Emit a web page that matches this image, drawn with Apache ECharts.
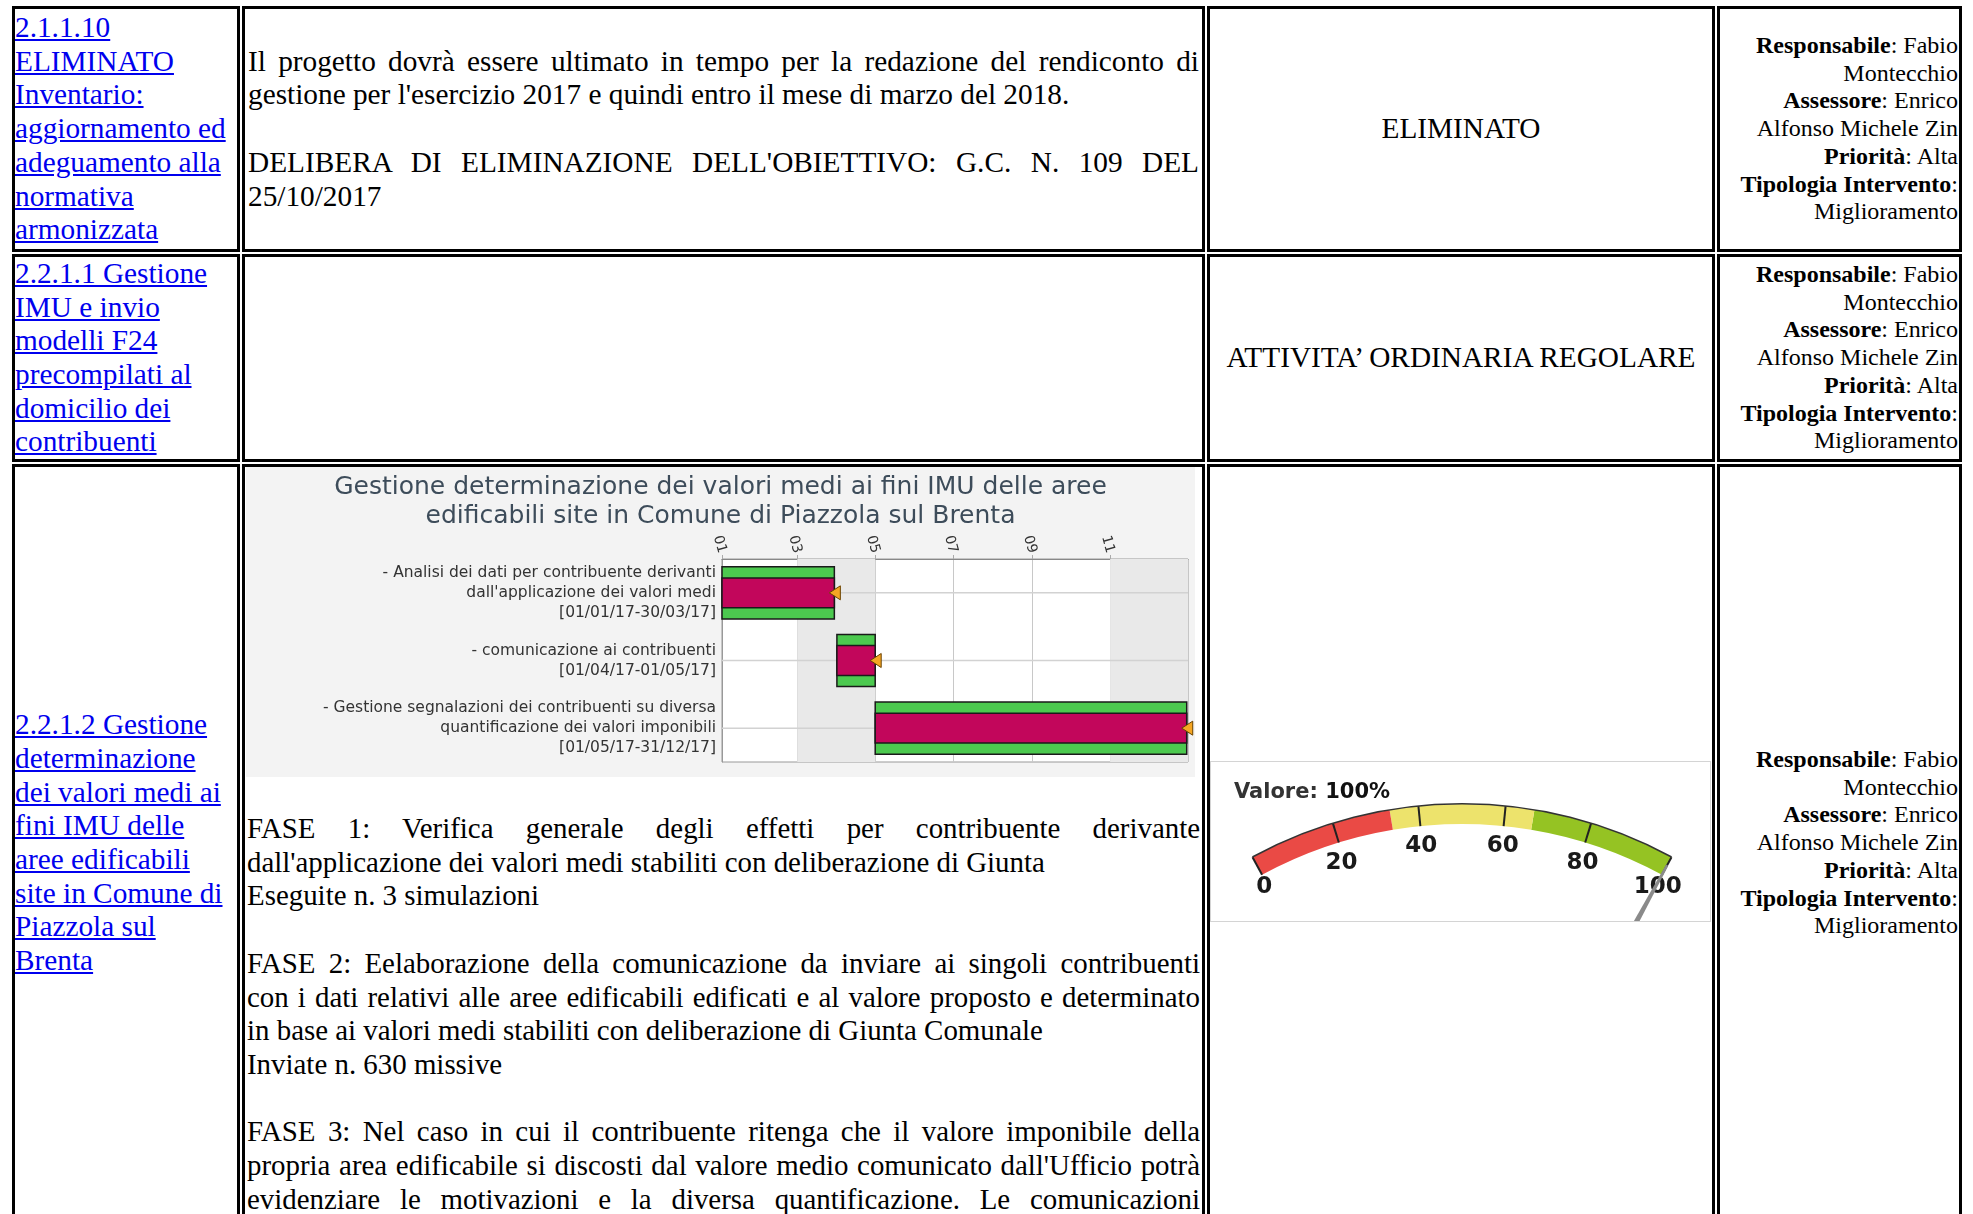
<!DOCTYPE html>
<html>
<head>
<meta charset="utf-8">
<script src="https://cdn.jsdelivr.net/npm/echarts@6/dist/echarts.min.js"></script>
<style>
html,body{margin:0;padding:0;background:#fff;}
body{width:1973px;height:1214px;overflow:hidden;position:relative;font-family:"Liberation Serif","Times New Roman",serif;color:#000;}
.cell{position:absolute;box-sizing:border-box;border:3px solid #000;display:flex;flex-direction:column;justify-content:center;overflow:hidden;}
.big{font-size:29.3px;line-height:33.7px;}
.small{font-size:24px;line-height:27.7px;text-align:right;padding-right:1px;white-space:nowrap;}
.c1{white-space:nowrap;padding-left:0;}
a{color:#0000ee;text-decoration:underline;}
.j{text-align:justify;text-align-last:justify;}
.l{text-align:left;}
.blank{height:33.7px;}
.ctr{text-align:center;white-space:nowrap;}
</style>
</head>
<body>

<!-- Row 1 -->
<div class="cell big c1" style="left:12px;top:6px;width:228px;height:246px;">
  <a>2.1.1.10<br>ELIMINATO<br>Inventario:<br>aggiornamento ed<br>adeguamento alla<br>normativa<br>armonizzata</a>
</div>
<div class="cell big" style="left:242px;top:6px;width:963px;height:246px;padding:0 3px;">
  <div class="j">Il progetto dovrà essere ultimato in tempo per la redazione del rendiconto di</div>
  <div class="l">gestione per l'esercizio 2017 e quindi entro il mese di marzo del 2018.</div>
  <div class="blank"></div>
  <div class="j">DELIBERA DI ELIMINAZIONE DELL'OBIETTIVO: G.C. N. 109 DEL</div>
  <div class="l">25/10/2017</div>
</div>
<div class="cell big ctr" style="left:1207px;top:6px;width:508px;height:246px;">ELIMINATO</div>
<div class="cell small" style="left:1717px;top:6px;width:245px;height:246px;">
  <div><b>Responsabile</b>: Fabio<br>Montecchio<br><b>Assessore</b>: Enrico<br>Alfonso Michele Zin<br><b>Priorità</b>: Alta<br><b>Tipologia Intervento</b>:<br>Miglioramento</div>
</div>

<!-- Row 2 -->
<div class="cell big c1" style="left:12px;top:254px;width:228px;height:208px;">
  <a>2.2.1.1 Gestione<br>IMU e invio<br>modelli F24<br>precompilati al<br>domicilio dei<br>contribuenti</a>
</div>
<div class="cell big" style="left:242px;top:254px;width:963px;height:208px;"></div>
<div class="cell big ctr" style="left:1207px;top:254px;width:508px;height:208px;">ATTIVITA’ ORDINARIA REGOLARE</div>
<div class="cell small" style="left:1717px;top:254px;width:245px;height:208px;">
  <div><b>Responsabile</b>: Fabio<br>Montecchio<br><b>Assessore</b>: Enrico<br>Alfonso Michele Zin<br><b>Priorità</b>: Alta<br><b>Tipologia Intervento</b>:<br>Miglioramento</div>
</div>

<!-- Row 3 -->
<div class="cell big c1" style="left:12px;top:464px;width:228px;height:758px;">
  <a>2.2.1.2 Gestione<br>determinazione<br>dei valori medi ai<br>fini IMU delle<br>aree edificabili<br>site in Comune di<br>Piazzola sul<br>Brenta</a>
</div>
<div class="cell big" style="left:242px;top:464px;width:963px;height:758px;"></div>
<div class="cell big" style="left:1207px;top:464px;width:508px;height:758px;"></div>
<div class="cell small" style="left:1717px;top:464px;width:245px;height:758px;">
  <div><b>Responsabile</b>: Fabio<br>Montecchio<br><b>Assessore</b>: Enrico<br>Alfonso Michele Zin<br><b>Priorità</b>: Alta<br><b>Tipologia Intervento</b>:<br>Miglioramento</div>
</div>

<div id="gantt" style="position:absolute;left:246px;top:467px;width:949px;height:310px;"></div>

<div class="big" style="position:absolute;left:247px;top:812px;width:953px;font-size:28.9px;">
  <div class="j">FASE 1: Verifica generale degli effetti per contribuente derivante</div>
  <div class="l">dall'applicazione dei valori medi stabiliti con deliberazione di Giunta</div>
  <div class="l">Eseguite n. 3 simulazioni</div>
  <div class="blank"></div>
  <div class="j">FASE 2: Eelaborazione della comunicazione da inviare ai singoli contribuenti</div>
  <div class="j">con i dati relativi alle aree edificabili edificati e al valore proposto e determinato</div>
  <div class="l">in base ai valori medi stabiliti con deliberazione di Giunta Comunale</div>
  <div class="l">Inviate n. 630 missive</div>
  <div class="blank"></div>
  <div class="j">FASE 3: Nel caso in cui il contribuente ritenga che il valore imponibile della</div>
  <div class="j">propria area edificabile si discosti dal valore medio comunicato dall'Ufficio potrà</div>
  <div class="j">evidenziare le motivazioni e la diversa quantificazione. Le comunicazioni</div>
</div>

<div style="position:absolute;left:1210px;top:761px;width:501px;height:161px;box-sizing:border-box;border:1px solid #d4d4d4;background:#fff;">
  <div id="gauge" style="width:499px;height:159px;"></div>
</div>

<script>
// ---------------- Data ----------------
const ganttTitle = "Gestione determinazione dei valori medi ai fini IMU delle aree\nedificabili site in Comune di Piazzola sul Brenta";
const taskNames = [
  "- Analisi dei dati per contribuente derivanti\ndall'applicazione dei valori medi",
  "- comunicazione ai contribuenti",
  "- Gestione segnalazioni dei contribuenti su diversa\nquantificazione dei valori imponibili"
];
const taskStart = ["2017-01-01", "2017-04-01", "2017-05-01"];
const taskEnd   = ["2017-03-30", "2017-05-01", "2017-12-31"];
const axisStart = "2017-01-01";
const axisEnd   = "2018-01-01";
const monthTicks = ["2017-01-01", "2017-03-01", "2017-05-01", "2017-07-01", "2017-09-01", "2017-11-01"];
const monthTickLabels = ["01", "03", "05", "07", "09", "11"];
const shadedBands = [["2017-03-01", "2017-05-01"], ["2017-11-01", "2018-01-01"]];

const gaugeLabel = "Valore";
const gaugeValue = 100;
const gaugeMin = 0;
const gaugeMax = 100;
const gaugeSplits = 5;
const gaugeBandStops = [1/3, 2/3, 1];
const gaugeBandColors = ["#ea4a45", "#ede36c", "#95c323"];

// ---------------- Gantt ----------------
const toTs = s => { const p = s.split('-').map(Number); return Date.UTC(p[0], p[1] - 1, p[2]); };
const fmtDate = s => { const p = s.split('-'); return p[2] + '/' + p[1] + '/' + p[0].slice(2); };
const yLabels = taskNames.map((n, i) => n + '\n[' + fmtDate(taskStart[i]) + '-' + fmtDate(taskEnd[i]) + ']');
const tickTs = monthTicks.map(toTs);
const xMin = toTs(axisStart), xMax = toTs(axisEnd);

function renderTask(params, api) {
  const s = api.value(0), e = api.value(1), idx = api.value(2);
  const a = api.coord([s, idx]), b = api.coord([e, idx]);
  const bandH = api.size([0, 1])[1];
  const cy = a[1];
  const left = api.coord([xMin, idx])[0], right = api.coord([xMax, idx])[0];
  const outerH = bandH * 0.77, innerH = bandH * 0.44;
  return {
    type: 'group',
    children: [
      { type: 'line', shape: { x1: left, y1: cy, x2: right, y2: cy }, style: { stroke: '#d2d2d2', lineWidth: 1.5 } },
      { type: 'rect', shape: { x: a[0], y: cy - outerH / 2, width: b[0] - a[0], height: outerH }, style: { fill: '#4cc94f', stroke: '#1a1a1a', lineWidth: 1.5 } },
      { type: 'rect', shape: { x: a[0], y: cy - innerH / 2, width: b[0] - a[0], height: innerH }, style: { fill: '#c2065b', stroke: '#1a1a1a', lineWidth: 1.5 } },
      { type: 'polygon', shape: { points: [[b[0] - 5, cy], [b[0] + 6, cy - 7], [b[0] + 6, cy + 7]] }, style: { fill: '#f5a623', stroke: '#6b4300', lineWidth: 1 } }
    ]
  };
}

const gantt = echarts.init(document.getElementById('gantt'));
gantt.setOption({
  animation: false,
  backgroundColor: '#f3f3f3',
  title: {
    text: ganttTitle, left: 'center', top: 1,
    textStyle: { fontFamily: 'DejaVu Sans', fontSize: 25, fontWeight: 'normal', color: '#3d4c5a', lineHeight: 29 }
  },
  grid: { left: 476, right: 7, top: 92, bottom: 15, show: true, backgroundColor: '#ffffff', borderColor: '#999', borderWidth: 1 },
  xAxis: {
    type: 'value', position: 'top', min: xMin, max: xMax,
    axisLine: { show: true, lineStyle: { color: '#888' } },
    axisTick: { show: true, length: 4, customValues: tickTs, lineStyle: { color: '#aaa' } },
    splitLine: { show: true, lineStyle: { color: '#c8c8c8', width: 1 } },
    axisLabel: {
      customValues: tickTs, rotate: 75, margin: 6, fontSize: 14, color: '#333', fontFamily: 'DejaVu Sans',
      formatter: v => { const k = tickTs.findIndex(t => Math.abs(t - v) < 1000); return k >= 0 ? monthTickLabels[k] : ''; }
    }
  },
  yAxis: {
    type: 'category', inverse: true, data: yLabels,
    axisLine: { show: true, lineStyle: { color: '#999' } },
    axisTick: { show: false },
    splitLine: { show: false },
    axisLabel: { interval: 0, fontSize: 15.5, lineHeight: 20, color: '#333', fontFamily: 'DejaVu Sans', margin: 6 }
  },
  series: [
    {
      type: 'line', data: [], silent: true,
      markArea: { silent: true, itemStyle: { color: '#e9e9e9' }, data: shadedBands.map(b => [{ xAxis: toTs(b[0]) }, { xAxis: toTs(b[1]) }]) }
    },
    {
      type: 'custom', renderItem: renderTask, clip: false,
      encode: { x: [0, 1], y: 2 },
      data: taskStart.map((s, i) => [toTs(s), toTs(taskEnd[i]), i])
    }
  ]
});

// ---------------- Gauge ----------------
const gauge = echarts.init(document.getElementById('gauge'));
const gCenter = [251, 481];
const gRadius = 439;
const labelFont = { fontFamily: 'DejaVu Sans', fontSize: 23, fontWeight: 'bold', color: '#1a1a1a' };
gauge.setOption({
  animation: false,
  series: [
    {
      type: 'gauge', center: gCenter, radius: gRadius, startAngle: 118.5, endAngle: 61.5,
      min: gaugeMin, max: gaugeMax, splitNumber: gaugeSplits,
      axisLine: { lineStyle: { width: 20, color: gaugeBandStops.map((s, i) => [s, gaugeBandColors[i]]) } },
      splitLine: { distance: -20, length: 20, lineStyle: { color: '#222', width: 2 } },
      axisTick: { show: false },
      axisLabel: {
        distance: 29,
        formatter: v => v === gaugeMin ? '{l|' + v + '}' : (v === gaugeMax ? '{r|' + v + '}' : '{m|' + v + '}'),
        rich: {
          m: Object.assign({ lineHeight: 23 }, labelFont),
          l: Object.assign({ lineHeight: 8, width: 6, align: 'right' }, labelFont),
          r: Object.assign({ lineHeight: 8, width: 24, align: 'left' }, labelFont)
        }
      },
      pointer: { icon: 'path://M5.75 0 L8.25 0 L9.5 15 L14 100 L0 100 L4.5 15 Z', length: 430, width: 14, keepAspect: false, itemStyle: { color: '#8a8a8a' } },
      anchor: { show: false },
      title: { show: false },
      detail: {
        offsetCenter: [-150, -450],
        formatter: '{a|' + gaugeLabel + ': }{b|{value}%}',
        rich: {
          a: { fontFamily: 'DejaVu Sans', fontSize: 21, color: '#333' },
          b: { fontFamily: 'DejaVu Sans', fontSize: 21, fontWeight: 'bold', color: '#111' }
        }
      },
      data: [{ value: gaugeValue }]
    },
    {
      type: 'gauge', center: gCenter, radius: gRadius + 1, startAngle: 118.5, endAngle: 61.5,
      min: gaugeMin, max: gaugeMax, silent: true,
      axisLine: { lineStyle: { width: 1.5, color: [[1, '#333']] } },
      splitLine: { show: false }, axisTick: { show: false }, axisLabel: { show: false },
      pointer: { show: false }, anchor: { show: false }, title: { show: false }, detail: { show: false },
      data: [{ value: gaugeValue }]
    }
  ]
});
</script>
</body>
</html>
